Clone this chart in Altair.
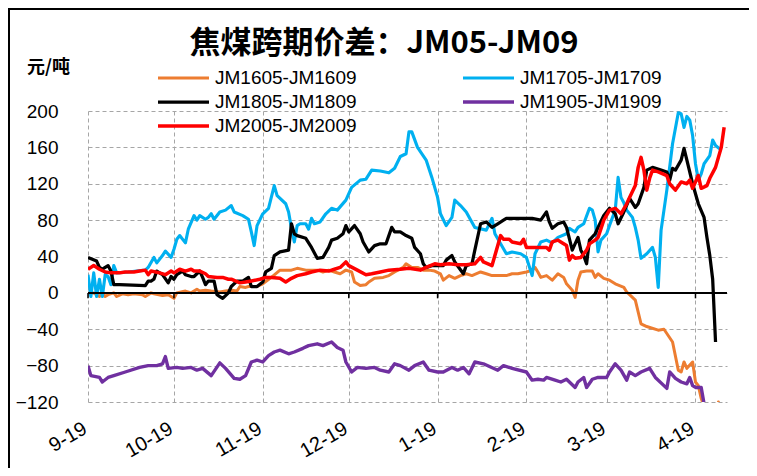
import altair as alt
import pandas as pd

# ---------------- data (day offsets from 2018-09-19, values in 元/吨) ----------------
base_date = "2018-09-19"
series_names = ["JM1605-JM1609", "JM1705-JM1709", "JM1805-JM1809", "JM1905-JM1909", "JM2005-JM2009"]
series_colors = ["#ED7D31", "#00B0F0", "#000000", "#7030A0", "#FF0000"]
series_widths = [3, 3.5, 3.5, 4.5, 5.5]

d_1605 = [0, 2, 4, 5, 6, 7, 9, 10, 12, 14, 16, 19, 20, 22, 23, 26, 28, 30, 31, 34, 36, 38, 39, 41, 43, 46,
          48, 50, 52, 53, 55, 56, 59, 61, 64, 67, 69, 71, 73, 76, 78, 80, 82, 84, 86, 88, 90, 92, 93, 95,
          97, 98, 100, 103, 105, 107, 110, 111, 113, 115, 117, 119, 121, 123, 124, 126, 128, 130, 132,
          134, 137, 139, 141, 143, 146, 148, 150, 153, 155, 156, 157, 158, 160, 162, 164, 166, 167, 169,
          170, 171, 172, 174, 176, 177, 178, 180, 182, 184, 187, 188, 190, 191, 193, 195, 199, 201, 204,
          206, 207, 208, 209, 211, 212, 213, 214, 216, 219, 220, 221]
v_1605 = [0, 0, -4, 0, -4, -2, 0, -4, -1, -2, -1, -2, -4, 0, -1, -3, -2, -6, 0, 2, 0, 4, 2, 3, 2, 1,
          2, 3, 2, 7, 6, 7, 7, 10, 17, 25, 25, 25, 27, 25, 25, 25, 23, 25, 23, 21, 25, 23, 12, 8,
          9, 12, 16, 17, 19, 23, 28, 32, 28, 28, 25, 25, 24, 21, 14, 19, 16, 19, 21,
          19, 23, 21, 19, 19, 19, 21, 21, 23, 25, 28, 23, 17, 19, 14, 21, 17, 10, 3,
          -5, 14, 23, 24, 24, 17, 21, 16, 14, 10, 6, 1, -5, -8, -34, -37, -41, -40, -54,
          -85, -87, -76, -83, -76, -98, -102, -116, -135, -135, -120, -128]

d_1705 = [0, 1, 2, 3, 4, 5, 6, 7, 8, 9, 10, 14, 20, 21, 23, 24, 26, 27, 29, 30, 31, 32, 34, 35, 37, 38,
          39, 41, 42, 43, 44, 46, 48, 50, 51, 54, 56, 57, 58, 59, 61, 63, 65, 66, 69, 70, 71, 72, 73,
          74, 76, 77, 78, 79, 81, 83, 85, 87, 90, 92, 95, 97, 99, 102, 105, 107, 109, 111, 112, 113,
          115, 118, 120, 122, 123, 125, 127, 128, 130, 132, 135, 139, 141, 142, 144, 146, 148, 151,
          153, 155, 156, 158, 160, 162, 164, 167, 168, 170, 171, 173, 175, 176, 177, 178, 179, 181,
          182, 184, 185, 186, 187, 188, 190, 191, 192, 193, 195, 197, 198, 199, 200, 202, 204, 206,
          207, 208, 209, 210, 211, 212, 213, 214, 215, 217, 218, 219, 221]
v_1705 = [20, -4, 22, -4, 15, -4, 20, 18, 9, 30, 22, 23, 25, 28, 39, 33, 41, 46, 39, 48, 59, 63, 55, 70, 85, 80,
          85, 81, 83, 87, 81, 89, 91, 96, 89, 85, 81, 67, 52, 74, 87, 93, 118, 107, 98, 89, 71, 56, 74,
          76, 76, 70, 82, 76, 78, 87, 93, 91, 102, 116, 124, 125, 135, 134, 132, 137, 150, 153, 177, 177,
          160, 146, 127, 105, 87, 74, 83, 102, 96, 89, 72, 69, 82, 65, 54, 43, 45, 43,
          39, 19, 43, 56, 58, 55, 61, 65, 71, 67, 72, 76, 93, 91, 80, 45, 58, 65,
          74, 91, 127, 105, 99, 91, 83, 72, 58, 38, 43, 50, 39, 6, 69, 113, 164, 198,
          197, 182, 194, 190, 173, 142, 124, 131, 142, 151, 168, 162, 157]

d_1805 = [0, 3, 4, 5, 7, 8, 9, 11, 20, 21, 22, 23, 24, 26, 28, 29, 30, 31, 33, 34, 36, 37, 39, 40, 41, 42,
          44, 45, 46, 47, 49, 50, 52, 54, 56, 57, 59, 61, 62, 64, 65, 67, 70, 71, 72, 73, 76, 78, 80,
          82, 84, 85, 87, 89, 90, 91, 93, 95, 96, 98, 100, 102, 104, 106, 107, 109, 111, 113, 114, 116,
          117, 118, 120, 124, 125, 127, 128, 131, 132, 134, 135, 137, 139, 141, 143, 145, 146, 150,
          155, 158, 160, 161, 162, 164, 166, 167, 169, 171, 172, 173, 174, 175, 177, 178, 180, 182,
          184, 185, 187, 189, 191, 192, 194, 195, 197, 200, 202, 203, 204, 205, 207, 208, 209, 211,
          213, 215, 216, 217, 218, 219]
v_1805 = [39, 35, 28, 26, 30, 24, 9, 9, 8, 13, 13, 15, 24, 20, 11, 18, 15, 20, 24, 20, 18, 18, 24, 17, 9, 13,
          13, -2, -4, -6, 0, 7, 13, 13, 17, 7, 7, 12, 23, 27, 41, 45, 47, 76, 65, 63, 60, 50, 38,
          39, 50, 58, 60, 65, 74, 67, 74, 65, 56, 45, 52, 54, 54, 72, 67, 67, 63, 60, 50, 43,
          32, 28, 30, 30, 36, 41, 34, 21, 30, 32, 47, 76, 78, 72, 76, 80, 82, 82,
          82, 80, 89, 78, 71, 76, 78, 72, 47, 61, 47, 41, 32, 58, 65, 72, 85, 93,
          87, 76, 89, 104, 94, 98, 116, 135, 138, 135, 133, 124, 137, 135, 146, 159, 146, 120,
          98, 83, 61, 41, 15, -54]

d_1905 = [0, 1, 4, 5, 7, 9, 13, 18, 21, 24, 26, 27, 28, 31, 33, 36, 38, 40, 43, 46, 48, 51, 53, 55, 57, 59,
          61, 63, 65, 67, 70, 72, 75, 77, 80, 82, 85, 87, 89, 90, 92, 94, 97, 100, 102, 105, 107, 109,
          112, 114, 117, 119, 122, 124, 127, 129, 131, 133, 135, 138, 143, 145, 148, 153, 155, 157,
          159, 160, 163, 165, 167, 170, 171, 173, 174, 176, 178, 181, 182, 184, 186, 188, 189, 191,
          193, 196, 198, 202, 203, 205, 207, 209, 210, 211, 212, 214, 215, 217]
v_1905 = [-80, -91, -93, -98, -93, -91, -87, -82, -80, -80, -78, -70, -83, -82, -83, -82, -85, -83, -91, -77, -83, -94, -95, -91, -76, -74,
          -76, -69, -65, -63, -67, -65, -61, -58, -56, -58, -54, -60, -63, -76, -87, -82, -83, -82, -85, -87, -78, -80,
          -85, -80, -76, -85, -87, -87, -82, -85, -82, -89, -76, -78, -85, -80, -83, -87, -96, -95,
          -96, -93, -96, -98, -95, -104, -98, -93, -104, -95, -93, -93, -87, -78, -85, -96, -87, -91,
          -87, -83, -93, -105, -87, -94, -98, -100, -93, -102, -104, -104, -122, -140]

d_2005 = [0, 2, 4, 6, 8, 11, 13, 16, 18, 20, 21, 22, 25, 27, 29, 30, 32, 34, 36, 37, 39, 41, 42, 45, 47, 49,
          50, 53, 55, 57, 60, 62, 64, 67, 69, 71, 73, 76, 78, 81, 84, 86, 88, 90, 91, 94, 97, 99, 102,
          105, 109, 112, 116, 118, 121, 123, 126, 129, 132, 135, 137, 138, 141, 142, 144, 145, 147, 148,
          151, 152, 153, 157, 160, 161, 162, 164, 165, 167, 168, 169, 170, 172, 174, 175, 177, 178, 180,
          182, 184, 186, 188, 189, 191, 192, 193, 194, 195, 196, 197, 199, 202, 203, 205, 207, 209, 210,
          211, 213, 214, 216, 217, 219, 220, 221, 222]
v_2005 = [26, 30, 26, 23, 22, 22, 23, 23, 24, 25, 20, 24, 22, 20, 24, 22, 26, 24, 26, 24, 24, 21, 18, 17, 17, 15,
          15, 11, 12, 13, 15, 17, 17, 16, 12, 16, 19, 21, 23, 25, 24, 26, 28, 34, 30, 25, 20, 21, 23,
          25, 26, 27, 25, 28, 32, 31, 32, 31, 31, 32, 39, 34, 30, 41, 63, 59, 59, 56,
          54, 59, 50, 50, 50, 47, 56, 58, 56, 52, 36, 41, 38, 39, 47, 54, 58, 61, 80,
          91, 93, 87, 98, 105, 118, 138, 149, 135, 113, 126, 135, 133, 129, 120, 113, 122, 120, 124,
          115, 129, 115, 118, 126, 138, 149, 160, 182]

tick_days = [0, 30, 61, 91, 122, 153, 181, 212]
y_ticks = [-120, -80, -40, 0, 40, 80, 120, 160, 200]

title_text = "焦煤跨期价差：JM05-JM09"
unit_text = "元/吨"

# ---------------- build tables ----------------
start = pd.Timestamp(base_date)
all_days = [d_1605, d_1705, d_1805, d_1905, d_2005]
all_vals = [v_1605, v_1705, v_1805, v_1905, v_2005]
rows = []
for name, ds, vs in zip(series_names, all_days, all_vals):
    for d, v in zip(ds, vs):
        rows.append({"series": name, "date": (start + pd.Timedelta(days=d)).strftime("%Y-%m-%d"), "value": v})
df = pd.DataFrame(rows)
ticks_df = pd.DataFrame({"date": [(start + pd.Timedelta(days=d)).strftime("%Y-%m-%d") for d in tick_days]})
tick_dt = [alt.DateTime(year=int(t[:4]), month=int(t[5:7]), date=int(t[8:10]), utc=True) for t in ticks_df["date"]]

x_scale = alt.Scale(type="utc",
                    domain=[alt.DateTime(year=2018, month=9, date=19, utc=True),
                            alt.DateTime(year=2019, month=4, date=30, utc=True)])
y_scale = alt.Scale(domain=[-120, 200], nice=False, zero=False)

FONT = "Liberation Sans, Arial, sans-serif"
CJK = "Noto Sans CJK SC"

x_axis = alt.Axis(values=tick_dt, format="%-m-%d", labelAngle=330, labelAlign="right",
                  labelBaseline="alphabetic", labelFont=FONT, labelFontSize=20,
                  labelColor="#000000", labelPadding=30, labelOverlap=False, labelFlush=False,
                  tickCount=30, domain=False, ticks=False, tickSize=0, grid=True, gridDash=[4, 3],
                  gridColor="#A6A6A6", gridWidth=1, title=None)
y_axis = alt.Axis(values=y_ticks, tickCount=30, labelFont=FONT, labelFontSize=19, labelColor="#000000",
                  labelPadding=30, labelOverlap=False, labelFlush=False, domain=False, ticks=False,
                  tickSize=0, grid=True, gridDash=[4, 3], gridColor="#A6A6A6", gridWidth=1,
                  title=unit_text, titleAngle=0, titleX=-40, titleY=-44, titleAlign="center",
                  titleBaseline="middle", titleFont=CJK, titleFontSize=18,
                  titleFontWeight="bold", titleColor="#000000")

lines = alt.Chart(df).mark_line(clip=True, strokeJoin="round").encode(
    x=alt.X("date:T", scale=x_scale, axis=x_axis),
    y=alt.Y("value:Q", scale=y_scale, axis=y_axis),
    color=alt.Color("series:N", scale=alt.Scale(domain=series_names, range=series_colors),
                    legend=alt.Legend(title=None, orient="none", legendX=68, legendY=-45, columns=2,
                                      direction="horizontal",
                                      columnPadding=104, rowPadding=0, clipHeight=24,
                                      symbolType="stroke", symbolSize=2601, symbolStrokeWidth=4.5,
                                      labelFont=FONT, labelFontSize=19, labelColor="#000000",
                                      labelOffset=4, padding=0, labelLimit=300)),
    strokeWidth=alt.StrokeWidth("series:O", scale=alt.Scale(domain=series_names, range=series_widths),
                                legend=None),
    order=alt.Order("date:T"),
)

zero_line = alt.Chart(pd.DataFrame({"v": [0]})).mark_rule(color="#000000", strokeWidth=2).encode(
    y=alt.datum(0))

zero_ticks = alt.Chart(ticks_df).mark_rule(color="#000000", strokeWidth=1.5).encode(
    x=alt.X("date:T", scale=x_scale, axis=x_axis),
    y=alt.datum(0),
    y2=alt.datum(-6),
)

title = alt.Chart(pd.DataFrame({"t": [title_text]})).mark_text(
    font=CJK, fontSize=31, fontWeight="bold", color="#000000", align="center", baseline="alphabetic"
).encode(x=alt.value(296), y=alt.value(-58), text="t:N")

frame_left = alt.Chart(pd.DataFrame({"k": [0]})).mark_rule(color="#000000", strokeWidth=2).encode(
    x=alt.value(-79), y=alt.value(-102), y2=alt.value(360))
frame_top = alt.Chart(pd.DataFrame({"k": [0]})).mark_rule(color="#000000", strokeWidth=2).encode(
    x=alt.value(-80), x2=alt.value(670), y=alt.value(-102))

chart = alt.layer(lines, zero_line, zero_ticks, title, frame_left, frame_top).properties(
    width=639, height=291,
    autosize=alt.AutoSizeParams(type="none"),
    padding={"left": 80, "top": 103, "right": 22, "bottom": 66},
    background="#FFFFFF",
).configure_view(stroke=None)

chart.save("out.html", embed_options={"renderer": "svg", "actions": False})
